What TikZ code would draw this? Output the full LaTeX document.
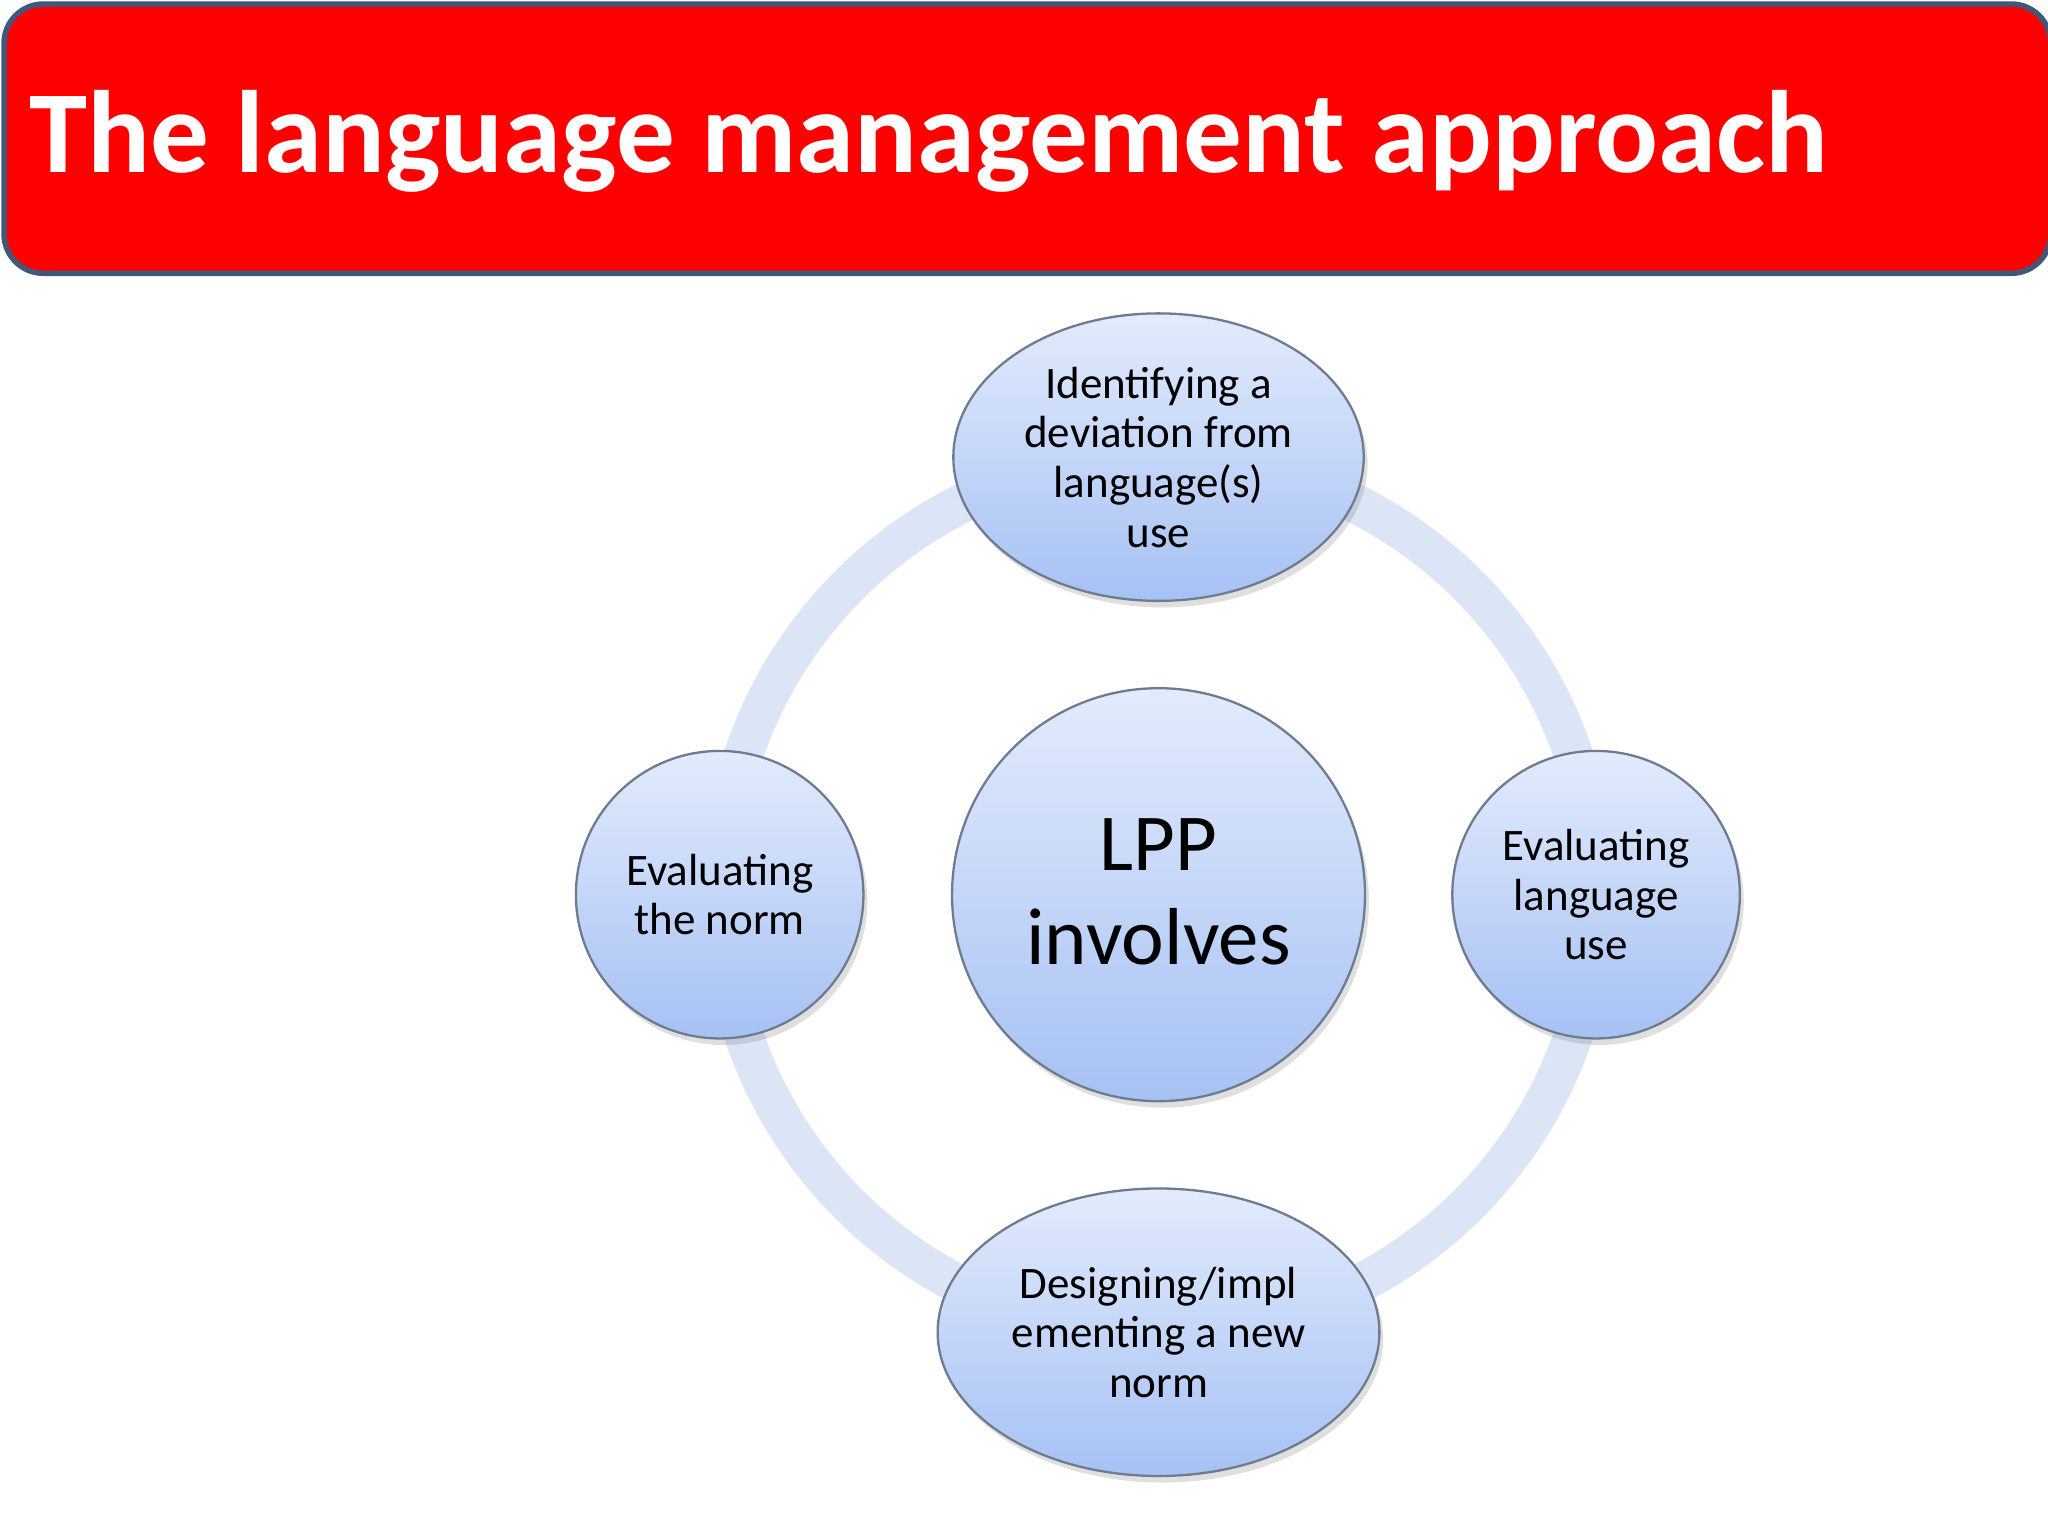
\documentclass[tikz,border=0pt]{standalone}
\usepackage{fontspec}
\setmainfont{Carlito}
\usetikzlibrary{shapes.geometric,shadows}
\definecolor{ringc}{HTML}{DCE5F6}
\definecolor{topc}{HTML}{E3EBFC}
\definecolor{botc}{HTML}{A6C1F4}
\definecolor{edgec}{HTML}{6F7C90}
\definecolor{bordc}{HTML}{3F5878}
\tikzset{
  bub/.style={draw=edgec, line width=0.5pt, top color=topc, bottom color=botc, align=center, inner sep=0pt,
    drop shadow={shadow xshift=0.03cm, shadow yshift=-0.05cm, opacity=0.25}},
  ell/.style={bub, ellipse},
  circ/.style={bub, circle},
  lbl/.style={font=\fontsize{9.8}{10.8}\selectfont, align=center}
}
\begin{document}
\begin{tikzpicture}[x=0.01cm,y=-0.01cm]
\useasboundingbox (0,0) rectangle (1568,1176);
\fill[white] (0,0) rectangle (1568,1176);
\node[draw=bordc, line width=1.2pt, fill=red, rounded corners=0.3cm, minimum width=15.66cm, minimum height=2.06cm, anchor=north west] (banner) at (1,1) {};
\node[anchor=base west, text=white, font=\fontsize{25.5}{30}\selectfont\bfseries, inner sep=0pt] (title) at (22,132) {The language management approach};
\coordinate (c) at (887,685);
\draw[ringc, line width=0.3cm] (c) circle (3.35cm);
\node[ell, minimum width=3.14cm, minimum height=2.2cm] (top) at (887,350) {};
\node[lbl] at (top) {Identifying a\\deviation from\\language(s)\\use};
\node[circ, minimum size=2.2cm] (left) at (551,685) {};
\node[lbl] at (551,685) {Evaluating\\the norm};
\node[circ, minimum size=2.2cm] (right) at (1222,685) {};
\node[lbl] at (right) {Evaluating\\language\\use};
\node[ell, minimum width=3.38cm, minimum height=2.2cm] (bot) at (887,1020) {};
\node[lbl] at (bot) {Designing/impl\\ementing a new\\norm};
\node[circ, minimum size=3.16cm] (mid) at (c) {};
\node[font=\fontsize{17.6}{20.4}\selectfont, align=center] at (887,683) {LPP\\involves};
\end{tikzpicture}
\end{document}
